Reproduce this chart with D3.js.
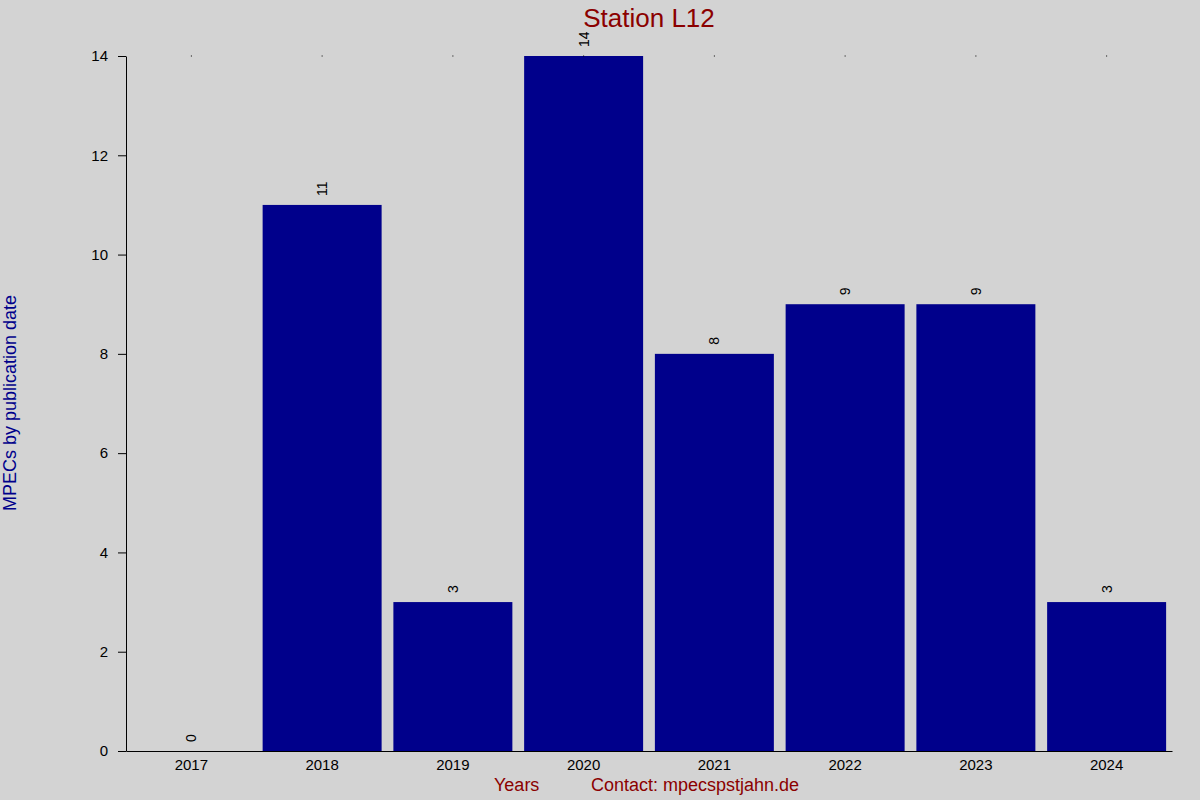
<!DOCTYPE html>
<html>
<head>
<meta charset="utf-8">
<script src="https://cdn.jsdelivr.net/npm/d3@7"></script>
<style>
	body { margin: 0; background: #d3d3d3; }
	text { font-family: "Liberation Sans", Arial, Helvetica, sans-serif; }
</style>
</head>
<body>
<div id="chart"></div>
<script>
var years = ["2017", "2018", "2019", "2020", "2021", "2022", "2023", "2024"];
var counts = [0, 11, 3, 14, 8, 9, 9, 3];
var yTicks = [0, 2, 4, 6, 8, 10, 12, 14];

var w = 1200, h = 800;
var plotLeft = 126, plotRight = 1172, plotTop = 56, plotBottom = 751;

var darkblue = "#00008b";
var darkred = "#8b0000";

var svg = d3.select("#chart").append("svg")
	.attr("width", w)
	.attr("height", h);

svg.append("rect")
	.attr("width", w)
	.attr("height", h)
	.attr("fill", "#d3d3d3");

var x = d3.scaleBand()
	.domain(years)
	.range([plotLeft, plotRight])
	.paddingInner(0.09)
	.paddingOuter(0.045);

var y = d3.scaleLinear()
	.domain([0, 14])
	.range([plotBottom, plotTop]);

// bars
svg.selectAll("rect.bar")
	.data(counts)
	.enter()
	.append("rect")
	.attr("class", "bar")
	.attr("x", (d, i) => x(years[i]))
	.attr("y", d => y(d))
	.attr("width", x.bandwidth())
	.attr("height", d => plotBottom - y(d))
	.attr("fill", darkblue);

// value labels, rotated
svg.selectAll("text.val")
	.data(counts)
	.enter()
	.append("text")
	.attr("class", "val")
	.attr("transform", (d, i) => "translate(" + (x(years[i]) + x.bandwidth() / 2) + "," + (y(d) - 9) + ") rotate(-90)")
	.attr("dy", "0.35em")
	.style("font-size", "14px")
	.attr("fill", "#000")
	.text(d => d);

// little dots along the top
svg.selectAll("rect.dot")
	.data(years)
	.enter()
	.append("rect")
	.attr("class", "dot")
	.attr("x", d => x(d) + x.bandwidth() / 2 - 0.5)
	.attr("y", plotTop - 0.5)
	.attr("width", 1)
	.attr("height", 1)
	.attr("fill", "#000");

// y axis
var yAxis = svg.append("g")
	.attr("transform", "translate(" + plotLeft + ",0)")
	.call(d3.axisLeft(y).tickValues(yTicks).tickSize(8).tickPadding(10).tickSizeOuter(0));
yAxis.select(".domain").attr("stroke", "#000");
yAxis.selectAll("text").style("font-size", "15px").attr("fill", "#000");

// x axis
var xAxis = svg.append("g")
	.attr("transform", "translate(0," + plotBottom + ")")
	.call(d3.axisBottom(x).tickSize(0).tickPadding(8));
xAxis.select(".domain").attr("stroke", "#000");
xAxis.selectAll("text").style("font-size", "15px").attr("fill", "#000");

// title
svg.append("text")
	.attr("x", 649)
	.attr("y", 27)
	.attr("text-anchor", "middle")
	.style("font-size", "26px")
	.attr("fill", darkred)
	.text("Station L12");

// y label
svg.append("text")
	.attr("transform", "translate(16,403) rotate(-90)")
	.attr("text-anchor", "middle")
	.style("font-size", "18px")
	.attr("fill", darkblue)
	.text("MPECs by publication date");

// bottom labels
svg.append("text")
	.attr("x", 494)
	.attr("y", 791)
	.style("font-size", "18px")
	.attr("fill", darkred)
	.text("Years");

svg.append("text")
	.attr("x", 591)
	.attr("y", 791)
	.style("font-size", "18px")
	.attr("fill", darkred)
	.text("Contact: mpecspstjahn.de");
</script>
</body>
</html>
